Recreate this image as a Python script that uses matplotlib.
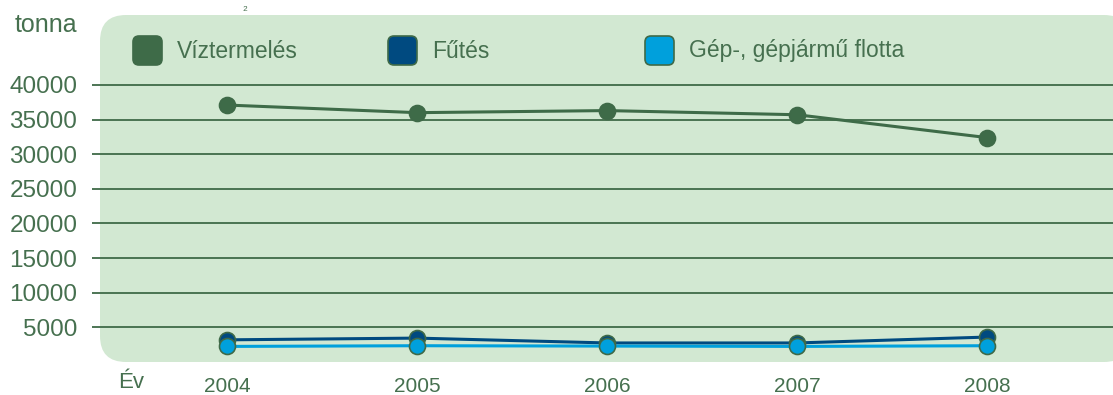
import matplotlib
matplotlib.use("Agg")
import matplotlib.pyplot as plt
from matplotlib.patches import FancyBboxPatch

plt.rcParams['font.family'] = ['Liberation Sans', 'DejaVu Sans']

# data
years = [2004, 2005, 2006, 2007, 2008]
viztermeles = [37100, 36000, 36300, 35700, 32400]
futes = [3200, 3450, 2750, 2750, 3600]
gep_flotta = [2250, 2350, 2300, 2250, 2350]
series_names = ['Víztermelés', 'Fűtés', 'Gép-, gépjármű flotta']
yticks = [5000, 10000, 15000, 20000, 25000, 30000, 35000, 40000]

txt = '#46704f'
edge = '#3f6a48'
bg = '#d2e8d2'
colors = ['#3e6b48', '#004a80', '#00a0dc']

W, H = 1113, 395
fig = plt.figure(figsize=(W / 100, H / 100), dpi=100)

# rounded green panel behind the plot
panel = FancyBboxPatch((1.00, 0.33), 10.30, 3.47,
                       boxstyle="round,pad=0,rounding_size=0.26",
                       transform=fig.dpi_scale_trans, facecolor=bg,
                       edgecolor='none', zorder=-1)
fig.patches.append(panel)

ax = fig.add_axes([100 / W, 33 / H, 1013 / W, 347 / H])
ax.patch.set_visible(False)
for s in ax.spines.values():
    s.set_visible(False)

ax.set_xlim(2004 - 127 / 190, 2004 + 886 / 190)
ax.set_ylim(0, 50100)

ax.set_yticks(yticks)
ax.set_yticklabels([str(v) for v in yticks])
ax.tick_params(axis='y', length=5.8, width=1.3, color=edge, pad=10.5,
               labelsize=17.5, labelcolor=txt)
ax.grid(axis='y', color=edge, linewidth=1.3, zorder=1)
ax.set_axisbelow(True)

ax.set_xticks(years)
ax.set_xticklabels([str(y) for y in years])
ax.tick_params(axis='x', length=0, pad=11, labelsize=15, labelcolor=txt)

for vals, c, z in zip([viztermeles, futes, gep_flotta], colors, [3, 4, 5]):
    ax.plot(years, vals, color=c, linewidth=2.2, marker='o', markersize=11.5,
            markerfacecolor=c, markeredgecolor=edge, markeredgewidth=1.2,
            zorder=z, clip_on=False)

# legend drawn by hand
leg_x = [133, 388, 645]
for x0, name, c in zip(leg_x, series_names, colors):
    sq = FancyBboxPatch((x0 / 100, (H - 65) / 100), 0.29, 0.29,
                        boxstyle="round,pad=0,rounding_size=0.06",
                        transform=fig.dpi_scale_trans, facecolor=c,
                        edgecolor=edge, linewidth=1.2, zorder=2)
    fig.patches.append(sq)
    fig.text((x0 + 44) / W, 1 - 51 / H, name, fontsize=16.5, color=txt,
             va='center', ha='left')

fig.text(15 / W, 1 - 25 / H, 'tonna', fontsize=18, color=txt, va='center')
fig.text(131 / W, 1 - 383 / H, 'Év', fontsize=16, color=txt,
         va='center', ha='center')
fig.text(245 / W, 1 - 1 / H, '₂', fontsize=9, color=txt,
         va='top', ha='center')

fig.savefig('out.png', dpi=100)
